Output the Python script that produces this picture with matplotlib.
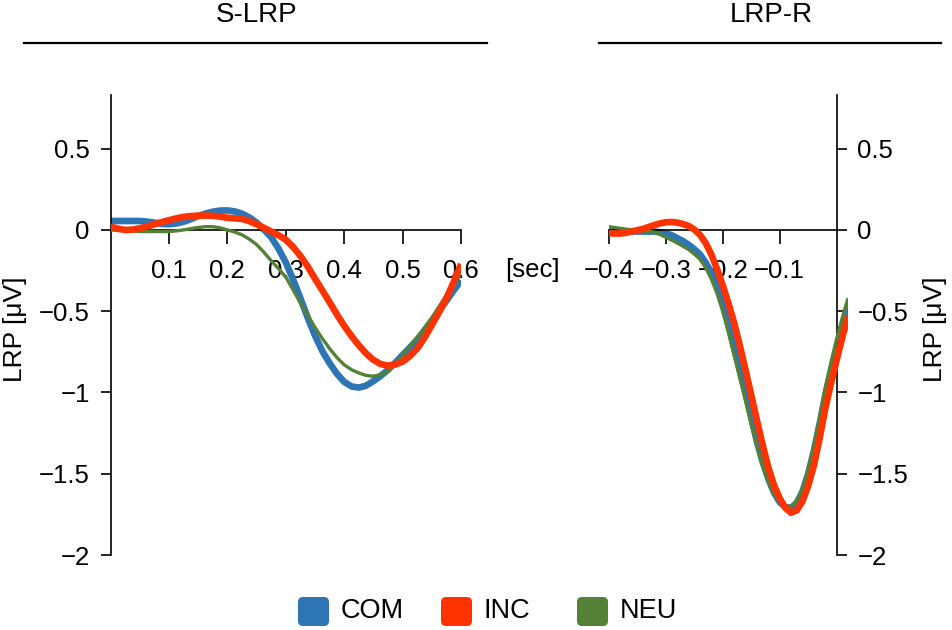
import numpy as np
import matplotlib
matplotlib.use('Agg')
import matplotlib.pyplot as plt
from matplotlib.patches import FancyBboxPatch

plt.rcParams['font.family'] = ['Liberation Sans', 'DejaVu Sans']

# S-LRP (stimulus locked), time in sec
s_time = [0.0, 0.0125, 0.025, 0.0375, 0.05, 0.0625, 0.075, 0.0875, 0.1, 0.1125,
          0.125, 0.1375, 0.15, 0.1625, 0.175, 0.1875, 0.2, 0.2125, 0.225, 0.2375,
          0.25, 0.2625, 0.275, 0.2875, 0.3, 0.3125, 0.325, 0.3375, 0.35, 0.3625,
          0.375, 0.3875, 0.4, 0.4125, 0.425, 0.4375, 0.45, 0.4625, 0.475, 0.4875,
          0.5, 0.5125, 0.525, 0.5375, 0.55, 0.5625, 0.575, 0.5875, 0.6]
s_com = [0.055, 0.055, 0.055, 0.055, 0.055, 0.051, 0.045, 0.037, 0.035, 0.040,
         0.050, 0.066, 0.085, 0.100, 0.112, 0.119, 0.120, 0.114, 0.100, 0.077,
         0.045, 0.003, -0.045, -0.115, -0.200, -0.305, -0.420, -0.540, -0.650, -0.745,
         -0.820, -0.885, -0.935, -0.963, -0.970, -0.958, -0.930, -0.898, -0.860, -0.817,
         -0.770, -0.723, -0.675, -0.620, -0.560, -0.498, -0.435, -0.372, -0.310]
s_inc = [0.020, 0.008, 0.000, 0.002, 0.010, 0.021, 0.035, 0.048, 0.060, 0.071,
         0.080, 0.085, 0.088, 0.088, 0.087, 0.082, 0.075, 0.071, 0.068, 0.054,
         0.035, 0.013, -0.010, -0.033, -0.060, -0.105, -0.160, -0.225, -0.300, -0.372,
         -0.445, -0.520, -0.590, -0.653, -0.710, -0.760, -0.800, -0.825, -0.835, -0.828,
         -0.810, -0.776, -0.730, -0.663, -0.585, -0.505, -0.420, -0.320, -0.210]
s_neu = [0.000, -0.003, -0.005, -0.008, -0.010, -0.010, -0.010, -0.010, -0.010, -0.006,
         0.000, 0.008, 0.015, 0.020, 0.020, 0.013, 0.000, -0.013, -0.030, -0.057,
         -0.090, -0.137, -0.190, -0.238, -0.290, -0.368, -0.450, -0.525, -0.600, -0.668,
         -0.730, -0.785, -0.830, -0.860, -0.880, -0.895, -0.900, -0.890, -0.870, -0.825,
         -0.770, -0.715, -0.660, -0.600, -0.540, -0.470, -0.400, -0.335, -0.270]

# LRP-R (response locked)
r_time = [-0.40, -0.39, -0.38, -0.37, -0.36, -0.35, -0.34, -0.33, -0.32, -0.31,
          -0.30, -0.29, -0.28, -0.27, -0.26, -0.25, -0.24, -0.23, -0.22, -0.21,
          -0.20, -0.19, -0.18, -0.17, -0.16, -0.15, -0.14, -0.13, -0.12, -0.11,
          -0.10, -0.09, -0.08, -0.07, -0.06, -0.05, -0.04, -0.03, -0.02, -0.01,
          0.00, 0.01, 0.02]
r_com = [-0.010, -0.010, -0.010, -0.010, -0.010, -0.010, -0.010, -0.010, -0.010, -0.014,
         -0.020, -0.032, -0.050, -0.068, -0.090, -0.118, -0.150, -0.200, -0.260, -0.345,
         -0.450, -0.580, -0.720, -0.860, -1.000, -1.150, -1.300, -1.425, -1.530, -1.615,
         -1.675, -1.705, -1.710, -1.680, -1.610, -1.500, -1.360, -1.195, -1.020, -0.870,
         -0.730, -0.590, -0.460]
r_inc = [-0.020, -0.022, -0.022, -0.018, -0.010, -0.002, 0.006, 0.018, 0.030, 0.040,
         0.047, 0.049, 0.045, 0.037, 0.025, 0.003, -0.030, -0.080, -0.150, -0.240,
         -0.340, -0.450, -0.570, -0.710, -0.860, -1.015, -1.170, -1.320, -1.460, -1.570,
         -1.650, -1.710, -1.740, -1.725, -1.670, -1.575, -1.450, -1.285, -1.100, -0.945,
         -0.800, -0.660, -0.530]
r_neu = [0.020, 0.015, 0.010, 0.005, 0.000, -0.003, -0.005, -0.008, -0.014, -0.028,
         -0.045, -0.062, -0.080, -0.100, -0.120, -0.148, -0.180, -0.232, -0.300, -0.390,
         -0.500, -0.630, -0.770, -0.910, -1.050, -1.195, -1.330, -1.450, -1.550, -1.625,
         -1.675, -1.700, -1.700, -1.665, -1.590, -1.475, -1.330, -1.155, -0.970, -0.815,
         -0.670, -0.540, -0.420]

conditions = ['COM', 'INC', 'NEU']
colors = {'COM': '#2E75B6', 'INC': '#FF3300', 'NEU': '#538135'}
widths = {'COM': 4.8, 'INC': 4.8, 'NEU': 2.4}
zorders = {'COM': 2, 'NEU': 3, 'INC': 4}

y_ticks = [-2, -1.5, -1, -0.5, 0, 0.5]
y_labels = ['\u22122', '\u22121.5', '\u22121', '\u22120.5', '0', '0.5']
s_ticks = [0.1, 0.2, 0.3, 0.4, 0.5, 0.6]
s_labels = ['0.1', '0.2', '0.3', '0.4', '0.5', '0.6']
r_ticks = [-0.4, -0.3, -0.2, -0.1]
r_labels = ['\u22120.4', '\u22120.3', '\u22120.2', '\u22120.1']

fs = 18.5

fig = plt.figure(figsize=(9.52, 6.30), dpi=100)

# overlay in pixel coords for titles, rules, labels and legend
ov = fig.add_axes([0, 0, 1, 1])
ov.set_xlim(0, 952)
ov.set_ylim(630, 0)
ov.axis('off')

ax1 = fig.add_axes([0.1161, 0.1190, 0.3682, 0.7302])
ax2 = fig.add_axes([0.6394, 0.1190, 0.2514, 0.7302])

s_data = {'COM': s_com, 'INC': s_inc, 'NEU': s_neu}
r_data = {'COM': r_com, 'INC': r_inc, 'NEU': r_neu}
for c in conditions:
    ax1.plot(s_time, s_data[c], color=colors[c], lw=widths[c], zorder=zorders[c],
             solid_capstyle='butt', solid_joinstyle='round')
    ax2.plot(r_time, r_data[c], color=colors[c], lw=widths[c], zorder=zorders[c],
             solid_capstyle='butt', solid_joinstyle='round')

for ax in (ax1, ax2):
    ax.set_facecolor('none')
    ax.set_ylim(-2, 0.83)
    ax.set_yticks(y_ticks)
    ax.set_yticklabels(y_labels)
    ax.spines['top'].set_visible(False)
    ax.spines['bottom'].set_position(('data', 0))
    for s in ax.spines.values():
        s.set_linewidth(1.2)
    ax.tick_params(axis='x', direction='out', length=10, width=1.2, pad=11, labelsize=fs)
    ax.tick_params(axis='y', direction='out', length=7, width=1.2, pad=8, labelsize=fs)

ax1.set_xlim(0, 0.6)
ax1.spines['right'].set_visible(False)
ax1.spines['bottom'].set_bounds(0, 0.6)
ax1.set_xticks(s_ticks)
ax1.set_xticklabels(s_labels)

ax2.set_xlim(-0.4, 0.02)
ax2.spines['left'].set_visible(False)
ax2.spines['right'].set_position(('data', 0))
ax2.spines['bottom'].set_bounds(-0.4, 0)
ax2.yaxis.tick_right()
ax2.tick_params(axis='y', pad=8)
ax2.set_xticks(r_ticks)
ax2.set_xticklabels(r_labels)

# titles with rules underneath
ov.text(257, 15, 'S-LRP', fontsize=20, ha='center', va='center')
ov.text(771, 15, 'LRP-R', fontsize=20, ha='center', va='center')
ov.plot([24, 487], [43, 43], color='black', lw=1.6)
ov.plot([599, 941], [43, 43], color='black', lw=1.6)

# axis labels
ov.text(15, 329, 'LRP [\u03bcV]', fontsize=19, rotation=90, ha='center', va='center')
ov.text(935, 329, 'LRP [\u03bcV]', fontsize=19, rotation=90, ha='center', va='center')
ov.text(560, 270, '[sec]', fontsize=fs, ha='right', va='center')

# legend with rounded squares
leg_x = {'COM': 298, 'INC': 441, 'NEU': 577}
for c in conditions:
    box = FancyBboxPatch((leg_x[c], 597), 31, 29,
                         boxstyle='round,pad=0,rounding_size=5',
                         facecolor=colors[c], edgecolor='none')
    ov.add_patch(box)
    ov.text(leg_x[c] + 43, 611, c, fontsize=19.5, ha='left', va='center')

fig.savefig('out.png', dpi=100)
